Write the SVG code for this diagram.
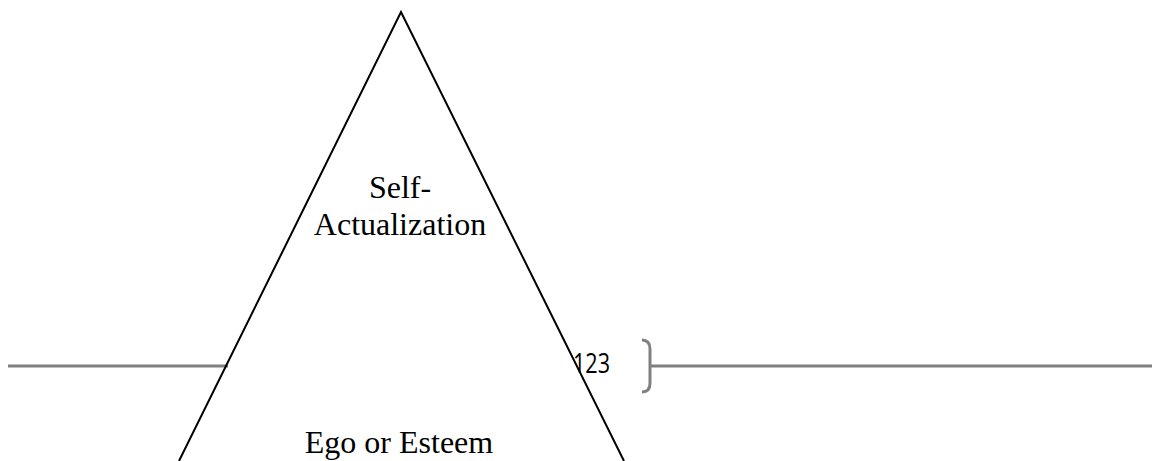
<svg xmlns="http://www.w3.org/2000/svg" width="1161" height="461" viewBox="0 0 1161 461">
<style>
.serif{font-family:"Liberation Serif","Times New Roman",serif;font-size:32px;fill:#000;text-anchor:middle}
.sans{font-family:"Open Sans","Liberation Sans",sans-serif;font-size:27px;fill:#000}
.gray{stroke:#808080;stroke-width:3;fill:none}
</style>
<rect width="1161" height="461" fill="#fff"/>
<g id="connectors">
<line class="gray" x1="8" y1="366" x2="228" y2="366"/>
<path class="gray" d="M642,340 Q650,340 650,349 L650,383 Q650,392 642,392" stroke-width="5"/>
<line class="gray" x1="651" y1="366" x2="1152" y2="366"/>
</g>
<g id="pyramid">
<polyline points="179,461 401,12 624,461" fill="none" stroke="#000" stroke-width="2"/>
</g>
<g id="self-actualization">
<text class="serif" x="400" y="198">Self-</text>
<text class="serif" x="400" y="235">Actualization</text>
</g>
<g id="ego">
<text class="serif" x="399" y="453">Ego or Esteem</text>
</g>
<g id="label-123">
<text class="sans" transform="translate(573,373) scale(0.8,1)" x="0" y="0">123</text>
</g>
</svg>
